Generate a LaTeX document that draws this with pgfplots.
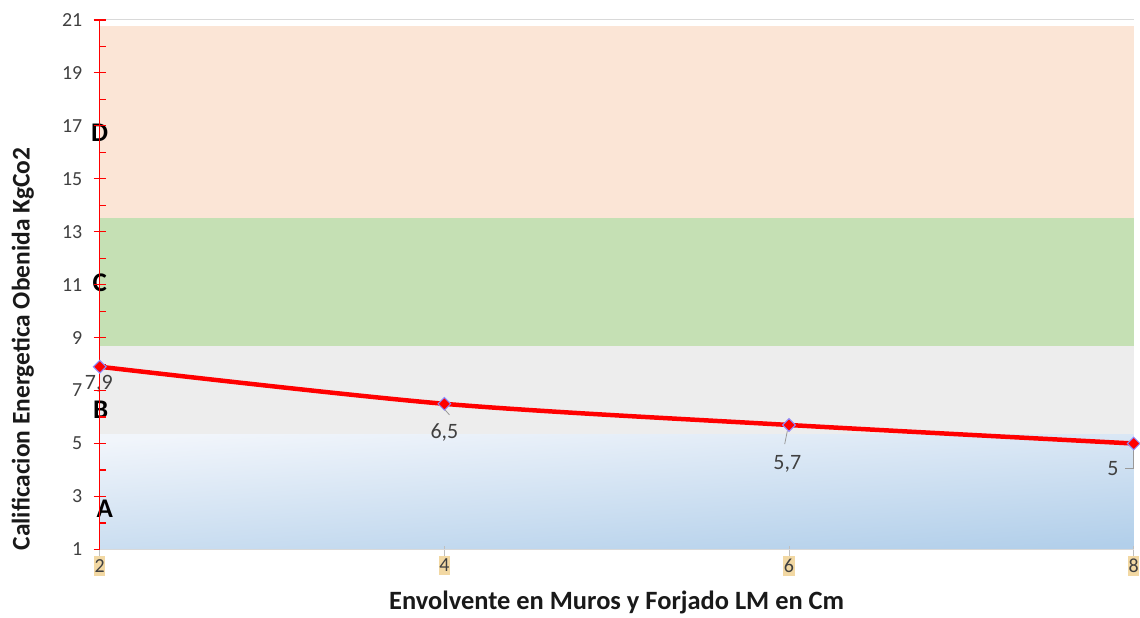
\documentclass[border=0pt]{standalone}
\usepackage{pgfplots}
\pgfplotsset{compat=1.18}
\usepackage{fontspec}
\setmainfont{Carlito}
\definecolor{bandD}{HTML}{FBE5D6}
\definecolor{bandC}{HTML}{C5E0B4}
\definecolor{bandB}{HTML}{EDEDED}
\definecolor{bandAtop}{HTML}{F1F5FB}
\definecolor{bandAbot}{HTML}{B2CFEA}
\definecolor{tickbg}{HTML}{F2D8A3}
\definecolor{txt}{HTML}{404040}
\begin{document}
\begin{tikzpicture}
\begin{axis}[
  scale only axis, width=1037pt, height=531pt,
  at={(0,0)}, anchor=south west,
  xmin=2, xmax=8, ymin=1, ymax=21,
  clip=false, axis on top=true,
  axis x line*=bottom, axis y line*=left,
  x axis line style={draw=black!15, line width=1pt},
  y axis line style={draw=red, line width=1.2pt},
  xtick={2,4,6,8},
  ytick={1,3,...,21},
  minor ytick={2,4,...,20},
  tick align=center,
  major tick length=12pt,
  minor tick length=6pt,
  y tick style={draw=red, line width=1.2pt},
  minor y tick style={xshift=3pt},
  x tick style={draw=black!25, line width=1pt, yshift=-3pt},
  /pgf/number format/assume math mode=true,
  ticklabel style={font=\fontsize{20}{22}\selectfont, text=txt},
  xticklabel style={fill=tickbg, inner xsep=0.5pt, inner ysep=3.5pt, yshift=0pt},
  yticklabel style={xshift=-8pt},
  xlabel={\textbf{Envolvente en Muros y Forjado LM en Cm}},
  ylabel={\textbf{Calificacion Energetica Obenida KgCo2}},
  label style={text=black!90},
  xlabel style={font=\fontsize{26.5}{30}\selectfont, at={(axis description cs:0.5,0)}, anchor=base, yshift=-60pt},
  ylabel style={font=\fontsize{25.5}{30}\selectfont, at={(axis description cs:0,0.3785)}, anchor=center, yshift=77pt},
]
% bands
\addplot[draw=none, fill=bandD] coordinates {(2,13.5) (8,13.5) (8,20.77) (2,20.77)} -- cycle;
\addplot[draw=none, fill=bandC] coordinates {(2,8.68) (8,8.68) (8,13.5) (2,13.5)} -- cycle;
\addplot[draw=none, fill=bandB] coordinates {(2,5.33) (8,5.33) (8,8.68) (2,8.68)} -- cycle;
\addplot[draw=none, shading=axis, top color=bandAtop, bottom color=bandAbot, shading angle=4] coordinates {(2,1) (8,1) (8,5.33) (2,5.33)} -- cycle;
% top border line
\draw[black!15, line width=1pt] (axis cs:2,21) -- (axis cs:8,21);
% series
\addplot[red, line width=4.5pt, smooth, mark=square*, mark size=4.5pt,
  mark options={rotate=45, fill=red, draw=blue!45!white, line width=1pt}]
  coordinates {(2,7.9) (4,6.5) (6,5.7) (8,5)};
% leader lines
\draw[black!40, line width=0.8pt] (axis cs:4.0,6.3) -- (axis cs:4.03,6.08);
\draw[black!40, line width=0.8pt] (axis cs:5.99,5.47) -- (axis cs:5.975,4.98);
\draw[black!40, line width=0.8pt] (axis cs:8,4.8) -- (axis cs:8,4.05) -- (axis cs:7.95,4.05);
% data labels
\node[text=txt, font=\fontsize{22}{24}\selectfont] at (axis cs:1.995,7.25) {7,9};
\node[text=txt, font=\fontsize{22}{24}\selectfont] at (axis cs:4.0,5.41) {6,5};
\node[text=txt, font=\fontsize{22}{24}\selectfont] at (axis cs:5.99,4.24) {5,7};
\node[text=txt, font=\fontsize{22}{24}\selectfont] at (axis cs:7.88,4.05) {5};
% band letters
\node[font=\bfseries\fontsize{27}{30}\selectfont] at (axis cs:2.0,16.74) {D};
\node[font=\bfseries\fontsize{27}{30}\selectfont] at (axis cs:2.0,11.06) {C};
\node[font=\bfseries\fontsize{27}{30}\selectfont] at (axis cs:2.006,6.27) {B};
\node[font=\bfseries\fontsize{27}{30}\selectfont] at (axis cs:2.03,2.54) {A};
\end{axis}
\useasboundingbox (-100pt,-65pt) rectangle (1040pt,551pt);
\end{tikzpicture}
\end{document}
